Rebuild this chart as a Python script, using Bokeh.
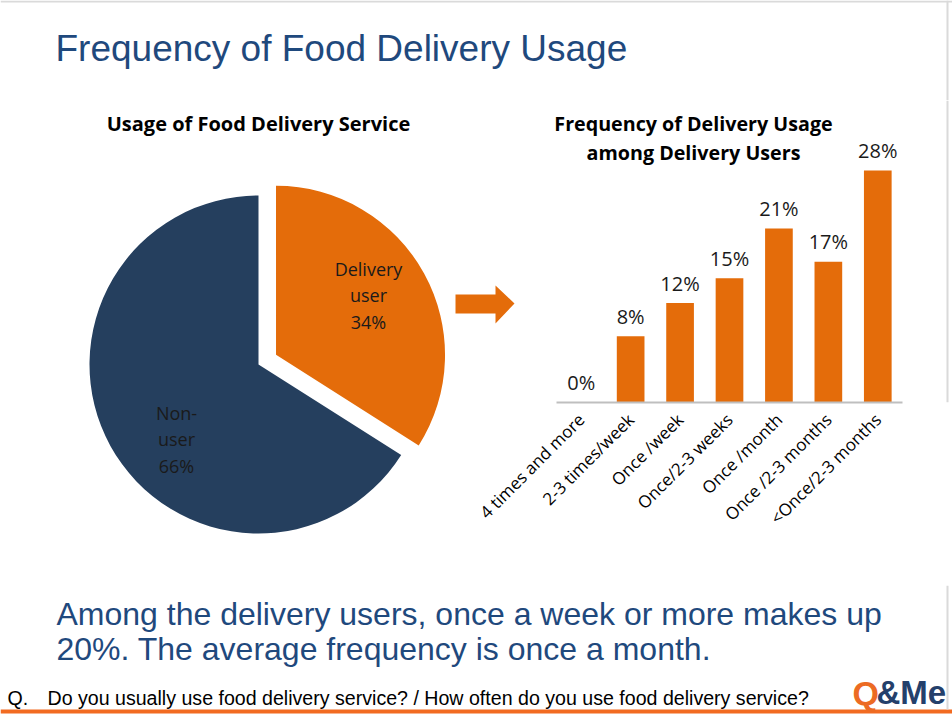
import numpy as np
from bokeh.plotting import figure
from bokeh.layouts import column, row
from bokeh.models import Range1d, FixedTicker
from bokeh.core.properties import value
from bokeh.embed import file_html
from bokeh.resources import INLINE

# ---------------- data ----------------
pie_names = ["Non-user", "Delivery user"]
pie_labels = ["Non-\nuser", "Delivery\nuser"]
pie_values = [66, 34]

freq_categories = ["4 times and more", "2-3 times/week", "Once /week",
                   "Once/2-3 weeks", "Once /month", "Once /2-3 months",
                   "<Once/2-3 months"]
freq_values = [0, 8, 12, 15, 21, 17, 28]

# ---------------- styles ----------------
NAVY = "#253F5E"
ORANGE = "#E46C0A"
BLUE_TEXT = "#1F497D"
BORDER = "#DADADA"
ARIAL = value("Liberation Sans")
CAL = value("Open Sans")
W, H = 952, 716
BORDER_X = 946


def canvas(w, h):
    p = figure(width=w, height=h, x_range=Range1d(0, w), y_range=Range1d(0, h),
               output_backend="svg", toolbar_location=None,
               x_axis_location=None, y_axis_location=None, min_border=0)
    p.outline_line_color = None
    p.xgrid.visible = False
    p.ygrid.visible = False
    p.background_fill_color = "white"
    p.border_fill_color = "white"
    p.frame_align = False
    return p


# ---------------- top title ----------------
TOP_H = 100
top = canvas(W, TOP_H)
top.text(x=[55], y=[TOP_H - 48], text=["Frequency of Food Delivery Usage"],
         text_font=ARIAL, text_font_size=value("37px"), text_color=BLUE_TEXT,
         text_align="left", text_baseline="middle")
top.quad(left=[0], right=[W], bottom=[TOP_H - 2], top=[TOP_H], fill_color=BORDER, line_color=None)
top.quad(left=[BORDER_X], right=[BORDER_X + 2], bottom=[0], top=[TOP_H], fill_color=BORDER, line_color=None)

# ---------------- pie ----------------
MID_H = 485
LEFT_W = 450
left = canvas(LEFT_W, MID_H)
left.text(x=[258], y=[MID_H - 23], text=["Usage of Food Delivery Service"],
          text_font=CAL, text_font_style="bold", text_font_size=value("20px"),
          text_color="#000000", text_align="center", text_baseline="middle")

cx, cy, r = 258, MID_H - 264, 169
explode = {"Delivery user": 20}
fracs = np.array(pie_values, dtype=float) / sum(pie_values)
ends = np.pi / 2 + 2 * np.pi * np.cumsum(fracs)
starts = ends - 2 * np.pi * fracs
mids = (starts + ends) / 2
xs = [cx + explode.get(n, 0) * np.cos(m) for n, m in zip(pie_names, mids)]
ys = [cy + explode.get(n, 0) * np.sin(m) for n, m in zip(pie_names, mids)]
left.wedge(x=xs, y=ys, radius=r, start_angle=list(starts), end_angle=list(ends),
           fill_color=[NAVY, ORANGE], line_color=None)

label_pos = {"Non-user": (176, MID_H - 339), "Delivery user": (368, MID_H - 195)}
lx = [label_pos[n][0] for n in pie_names]
ly = [label_pos[n][1] for n in pie_names]
ltxt = [f"{l}\n{v}%" for l, v in zip(pie_labels, pie_values)]
left.text(x=lx, y=ly, text=ltxt, text_font=CAL, text_font_size=value("18px"),
          text_color="#1a1a1a", text_align="center", text_baseline="middle",
          text_line_height=1.1)

# ---------------- bar chart (with the arrow) ----------------
RIGHT_W = W - LEFT_W
AX_L, AX_R, AX_Y, TOP_Y = 556, 902, 402, 170   # pixel layout of the bar area
step = (AX_R - AX_L) / len(freq_categories)
px_per_pct = (AX_Y - TOP_Y) / max(freq_values)


def px2x(px):
    return (px - AX_L) / step - 0.5


def py2y(py):
    return (AX_Y - py) / px_per_pct


idx = list(range(len(freq_categories)))
bar = figure(width=RIGHT_W, height=MID_H,
             x_range=Range1d(px2x(LEFT_W), px2x(W)),
             y_range=Range1d(0, py2y(100)),
             output_backend="svg", toolbar_location=None,
             y_axis_location=None, min_border_left=0, min_border_right=0,
             min_border_top=0, min_border_bottom=MID_H - (AX_Y - 100))
bar.frame_align = False
bar.outline_line_color = None
bar.xgrid.visible = False
bar.ygrid.visible = False
bar.background_fill_color = "white"
bar.border_fill_color = "white"
bar.vbar(x=idx, top=freq_values, width=0.56, fill_color=ORANGE, line_color=None)
bar.text(x=idx, y=freq_values, text=[f"{v}%" for v in freq_values],
         text_font=CAL, text_font_size=value("20px"), text_color="#1a1a1a",
         text_align="center", text_baseline="middle", y_offset=-20)
bar.text(x=[px2x(693)] * 2, y=[py2y(123), py2y(152)],
         text=["Frequency of Delivery Usage", "among Delivery Users"],
         text_font=CAL, text_font_style="bold", text_font_size=value("19.7px"),
         text_color="#000000", text_align="center", text_baseline="middle")

# arrow pointing from pie to bars
arrow_px = [(455, 294), (495, 294), (495, 285), (514, 303), (495, 323), (495, 313), (455, 313)]
bar.patch(x=[px2x(a) for a, b in arrow_px], y=[py2y(b) for a, b in arrow_px],
          fill_color=ORANGE, line_color=None)
# slide border on the right
bar.quad(left=[px2x(BORDER_X)], right=[px2x(BORDER_X + 2)], bottom=[0], top=[py2y(100)],
         fill_color=BORDER, line_color=None)

ax = bar.xaxis[0]
ax.ticker = FixedTicker(ticks=idx)
ax.major_label_overrides = {i: c for i, c in zip(idx, freq_categories)}
ax.bounds = (-0.5, len(freq_categories) - 0.5)
ax.axis_line_color = "#BFBFBF"
ax.axis_line_width = 2
ax.major_tick_line_color = None
ax.minor_tick_line_color = None
ax.major_label_orientation = np.pi / 4
ax.major_label_text_font = "Open Sans"
ax.major_label_text_font_size = "17px"
ax.major_label_text_color = "#000000"
ax.major_label_standoff = 8

# ---------------- bottom text ----------------
BOT_H = H - TOP_H - MID_H
bottom = canvas(W, BOT_H)
bottom.text(x=[56, 56], y=[H - 613, H - 648],
            text=["Among the delivery users, once a week or more makes up",
                  "20%. The average frequency is once a month."],
            text_font=ARIAL, text_font_size=value("32px"), text_color=BLUE_TEXT,
            text_align="left", text_baseline="middle")
bottom.text(x=[7, 47], y=[H - 697, H - 697],
            text=["Q.", "Do you usually use food delivery service? /  How often do you use food delivery service?"],
            text_font=ARIAL, text_font_size=value("19.6px"), text_color="#000000",
            text_align="left", text_baseline="middle")
bottom.quad(left=[0], right=[W], bottom=[H - 713], top=[H - 709],
            fill_color="#F26B21", line_color=None)
bottom.quad(left=[BORDER_X], right=[BORDER_X + 2], bottom=[H - 709], top=[BOT_H],
            fill_color=BORDER, line_color=None)
bottom.text(x=[852], y=[H - 692], text=["Q"], text_font=ARIAL, text_font_style="bold",
            text_font_size=value("34px"), text_color="#EC6B23",
            text_align="left", text_baseline="middle")
bottom.text(x=[876], y=[H - 692], text=["&Me"], text_font=ARIAL, text_font_style="bold",
            text_font_size=value("33px"), text_color="#24406B",
            text_align="left", text_baseline="middle")

layout = column(top, row(left, bar), bottom)
open("out.html", "w").write(file_html(layout, INLINE))
